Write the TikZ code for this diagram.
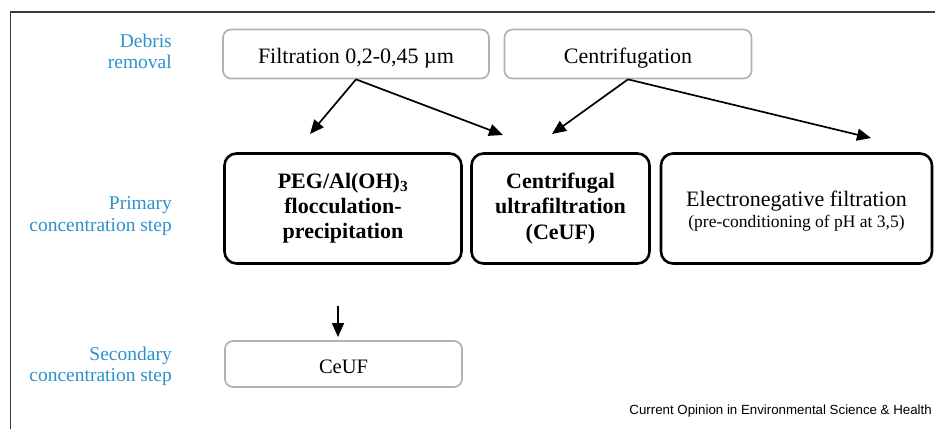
\documentclass[tikz,border=0pt]{standalone}
\usepackage{fontspec}
\setmainfont{Liberation Serif}
\newfontfamily\arialfont{Liberation Sans}
\usetikzlibrary{arrows.meta}
\definecolor{lblblue}{RGB}{45,145,205}
\definecolor{boxgray}{RGB}{178,178,178}
\definecolor{framegray}{RGB}{60,60,60}
\tikzset{
  graybox/.style={draw=boxgray, line width=1.7pt, rounded corners=8pt, inner sep=0pt,
    font=\fontsize{22}{25}\selectfont, align=center, text height=18pt, text depth=0pt},
  blackbox/.style={draw=black, line width=2.6pt, rounded corners=12pt, inner sep=0pt,
    align=center, minimum height=110pt},
  steplabel/.style={text=lblblue, align=right, anchor=north east, inner sep=0pt,
    font=\fontsize{19.5}{21.5}\selectfont},
  flowarrow/.style={draw=black, line width=1.7pt, -{Triangle[length=14pt,width=12pt]}},
}
\begin{document}
\begin{tikzpicture}[x=1pt,y=-1pt]
\useasboundingbox (0,0) rectangle (935,429);
% frame
\draw[framegray, line width=1.3pt] (10.5,429) -- (10.5,12) -- (935,12);
% labels
\node[steplabel] (lab1) at (172,33.5) {Debris\\removal};
\node[steplabel] (lab2) at (172,196.5) {Primary\\concentration step};
\node[steplabel] (lab3) at (172,346.5) {Secondary\\concentration step};
% debris removal boxes
\node[graybox, minimum width=266pt, minimum height=49pt] (filt) at (356,54) {Filtration 0,2-0,45 µm};
\node[graybox, minimum width=247pt, minimum height=49pt] (centr) at (628,54) {Centrifugation};
% primary boxes
\node[blackbox, minimum width=237pt, font=\bfseries\fontsize{22}{25}\selectfont] (peg) at (343,208.5)
  {PEG/Al(OH)\textsubscript{3}\\flocculation-\\precipitation};
\node[blackbox, minimum width=178pt, font=\bfseries\fontsize{22}{25.5}\selectfont] (cuf) at (560.5,208.5)
  {Centrifugal\\ultrafiltration\\(CeUF)};
\node[blackbox, minimum width=271pt] (eneg) at (796.5,208.5) {};
\node[align=center, inner sep=0pt] (enegtext) at ([yshift=-2.5pt]eneg.center)
  {{\fontsize{22}{22}\selectfont Electronegative filtration}\\[2.5pt]{\fontsize{17.5}{20}\selectfont (pre-conditioning of pH at 3,5)}};
% secondary box
\node[graybox, minimum width=237pt, minimum height=46pt, font=\fontsize{20.5}{24}\selectfont] (ceuf) at (343.5,364) {CeUF};
% arrow end points
\coordinate (a1) at (310,134);
\coordinate (a2) at (503,135);
\coordinate (a3) at (552,134);
\coordinate (a4) at (871,138);
\coordinate (d0) at (338,306);
\coordinate (d1) at (338,337);
% arrows
\draw[flowarrow] (filt.south) -- (a1);
\draw[flowarrow] (filt.south) -- (a2);
\draw[flowarrow] (centr.south) -- (a3);
\draw[flowarrow] (centr.south) -- (a4);
\draw[flowarrow] (d0) -- (d1);
% source
\node[anchor=east, inner sep=0pt, font=\arialfont\fontsize{13.3}{15}\selectfont] (src) at (932,411)
  {Current Opinion in Environmental Science \& Health};
\end{tikzpicture}
\end{document}
